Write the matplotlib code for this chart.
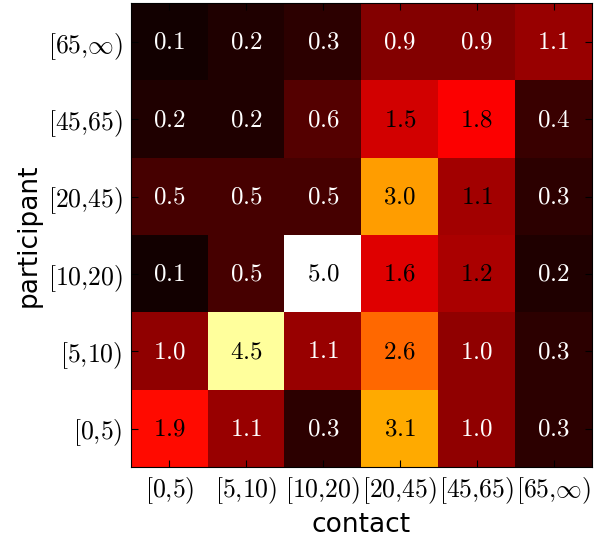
import numpy as np
import matplotlib
matplotlib.use("Agg")
import matplotlib.pyplot as plt

plt.rcParams['mathtext.fontset'] = 'cm'

groups = ['[0{,}5)', '[5{,}10)', '[10{,}20)', '[20{,}45)', '[45{,}65)', r'[65{,}\infty)']

# rows: participant from [0,5) up to [65,inf), columns: contact
row_0_5 = [1.9, 1.07, 0.27, 3.1, 1.0, 0.27]
row_5_10 = [1.0, 4.5, 1.07, 2.6, 1.0, 0.27]
row_10_20 = [0.07, 0.45, 5.0, 1.6, 1.2, 0.17]
row_20_45 = [0.45, 0.45, 0.46, 3.0, 1.14, 0.27]
row_45_65 = [0.16, 0.16, 0.55, 1.5, 1.8, 0.36]
row_65_inf = [0.06, 0.17, 0.27, 0.9, 0.9, 1.07]

data = np.array([row_0_5, row_5_10, row_10_20, row_20_45, row_45_65, row_65_inf])

fig = plt.figure(figsize=(5.94, 5.37), dpi=100)
ax = fig.add_axes([0.2205, 0.130, 0.776, 0.864])

ax.imshow(data, cmap='hot', origin='lower', aspect='auto',
          interpolation='nearest', vmin=0, vmax=data.max())

for i in range(data.shape[0]):
    for j in range(data.shape[1]):
        v = data[i, j]
        col = 'black' if v > 1.1 else 'white'
        ax.text(j, i, '$%.1f$' % v, ha='center', va='center',
                color=col, fontsize=18)

labels = ['$%s$' % g for g in groups]
ax.set_xticks(range(6))
ax.set_xticklabels(labels, fontsize=18.5)
ax.set_yticks(range(6))
ax.set_yticklabels(labels, fontsize=18.5)
ax.tick_params(direction='in', top=True, right=True, length=5, pad=6)
ax.set_xlabel('contact', fontsize=19)
ax.set_ylabel('participant', fontsize=19)

fig.savefig('out.png', dpi=100)
